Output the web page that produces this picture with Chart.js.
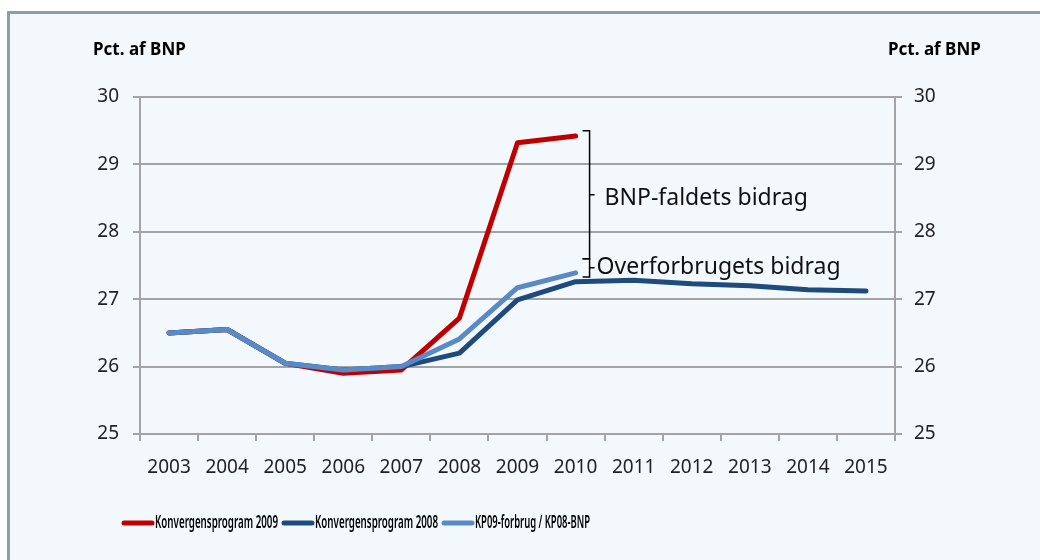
<!DOCTYPE html>
<html>
<head>
<meta charset="utf-8">
<script src="https://cdn.jsdelivr.net/npm/chart.js@4"></script>
<style>
  html, body { margin: 0; padding: 0; background: #fff; }
  #wrap { position: relative; width: 1040px; height: 560px; overflow: hidden; }
  #panel { position: absolute; left: 7px; top: 11px; width: 1100px; height: 600px;
           background: #f3f8fd; border-left: 3px solid #8d9ea9; border-top: 3px solid #8d9ea9; }
  canvas { position: absolute; left: 0; top: 0; }
</style>
</head>
<body>
<div id="wrap">
  <div id="panel"></div>
  <canvas id="chart" width="1040" height="560"></canvas>
</div>
<script>
const years = ["2003", "2004", "2005", "2006", "2007", "2008", "2009", "2010", "2011", "2012", "2013", "2014", "2015"];
const kp2009 = [26.5, 26.55, 26.05, 25.9, 25.95, 26.72, 29.32, 29.42, null, null, null, null, null];
const kp2008 = [26.5, 26.55, 26.05, 25.95, 26.0, 26.2, 26.99, 27.26, 27.28, 27.23, 27.2, 27.14, 27.12];
const kp09forbrug = [26.5, 26.55, 26.05, 25.95, 26.0, 26.41, 27.17, 27.39, null, null, null, null, null];
const yTicks = [25, 26, 27, 28, 29, 30];
const axisTitle = "Pct. af BNP";
// brace annotations: [from, to] in pct. af BNP, placed after 2010
const braces = [
  { label: "BNP-faldets bidrag", from: 29.5, to: 27.6 },
  { label: "Overforbrugets bidrag", from: 27.6, to: 27.33 }
];

const font = "'Noto Sans', 'Open Sans', sans-serif";
const gridColor = "#a3a3a3";

const extras = {
  id: "extras",
  afterDraw(chart) {
    const ctx = chart.ctx;
    const x = chart.scales.x, y = chart.scales.y;
    ctx.save();
    // axis titles
    ctx.fillStyle = "#000";
    ctx.font = "bold 17px " + font;
    ctx.textBaseline = "middle";
    ctx.textAlign = "left";
    ctx.fillText(axisTitle, 93, 50, 94);
    ctx.fillText(axisTitle, 888, 50, 94);

    // braces
    const bx = x.getPixelForValue(7) + 14;
    ctx.strokeStyle = "#000";
    ctx.lineWidth = 1.5;
    braces.forEach((b, i) => {
      const y1 = y.getPixelForValue(b.from), y2 = y.getPixelForValue(b.to);
      const ym = (y1 + y2) / 2;
      ctx.beginPath();
      ctx.moveTo(bx - 7, y1); ctx.lineTo(bx, y1);
      ctx.lineTo(bx, y2); ctx.lineTo(bx - 7, y2);
      ctx.moveTo(bx, ym); ctx.lineTo(bx + 5, ym);
      ctx.stroke();
      ctx.fillStyle = "#111";
      ctx.font = "23px " + font;
      if (i === 0) ctx.fillText(b.label, bx + 15, ym + 4, 206);
      else ctx.fillText(b.label, bx + 7, ym, 246);
    });

    // legend
    const lx = [122, 282, 442];
    chart.data.datasets.forEach((d, i) => {
      ctx.strokeStyle = d.borderColor;
      ctx.lineWidth = 5;
      ctx.lineCap = "round";
      ctx.beginPath();
      ctx.moveTo(lx[i] + 2, 523); ctx.lineTo(lx[i] + 30, 523);
      ctx.stroke();
      ctx.fillStyle = "#000";
      ctx.font = "600 17px " + font;
      ctx.fillText(d.label, lx[i] + 33, 523, [123, 123, 115][i]);
    });
    ctx.restore();
  }
};

new Chart(document.getElementById("chart"), {
  type: "line",
  data: {
    labels: years,
    datasets: [
      { label: "Konvergensprogram 2009", data: kp2009, borderColor: "#c00000", order: 2 },
      { label: "Konvergensprogram 2008", data: kp2008, borderColor: "#1f4a7e", order: 1 },
      { label: "KP09-forbrug / KP08-BNP", data: kp09forbrug, borderColor: "#5a8ac6", order: 0 }
    ].map(d => Object.assign(d, { borderWidth: 5, pointRadius: 0, fill: false, tension: 0,
                                  borderCapStyle: "round", borderJoinStyle: "round" }))
  },
  options: {
    responsive: false,
    animation: false,
    layout: { padding: { top: 97, bottom: 0, left: 0, right: 0 } },
    plugins: { legend: { display: false }, tooltip: { enabled: false } },
    scales: {
      x: {
        offset: true,
        grid: { offset: true, drawOnChartArea: false, color: gridColor, lineWidth: 2, tickLength: 7, tickColor: gridColor },
        border: { color: gridColor, width: 2 },
        ticks: { color: "#222", font: { family: font, size: 19 }, padding: 15, maxRotation: 0, autoSkip: false },
        afterFit(s) { s.height = 126; }
      },
      y: {
        position: "left",
        min: 25, max: 30,
        afterBuildTicks(s) { s.ticks = yTicks.map(v => ({ value: v })); },
        grid: { color: gridColor, lineWidth: 2, tickLength: 7, tickColor: gridColor },
        border: { color: gridColor, width: 2 },
        ticks: { color: "#222", font: { family: font, size: 19 }, padding: 14 },
        afterFit(s) { s.width = 140; }
      },
      y2: {
        position: "right",
        min: 25, max: 30,
        afterBuildTicks(s) { s.ticks = yTicks.map(v => ({ value: v })); },
        grid: { drawOnChartArea: false, lineWidth: 2, tickLength: 7, tickColor: gridColor },
        border: { color: gridColor, width: 2 },
        ticks: { color: "#222", font: { family: font, size: 19 }, padding: 12 },
        afterFit(s) { s.width = 145; }
      }
    }
  },
  plugins: [extras]
});
</script>
</body>
</html>
